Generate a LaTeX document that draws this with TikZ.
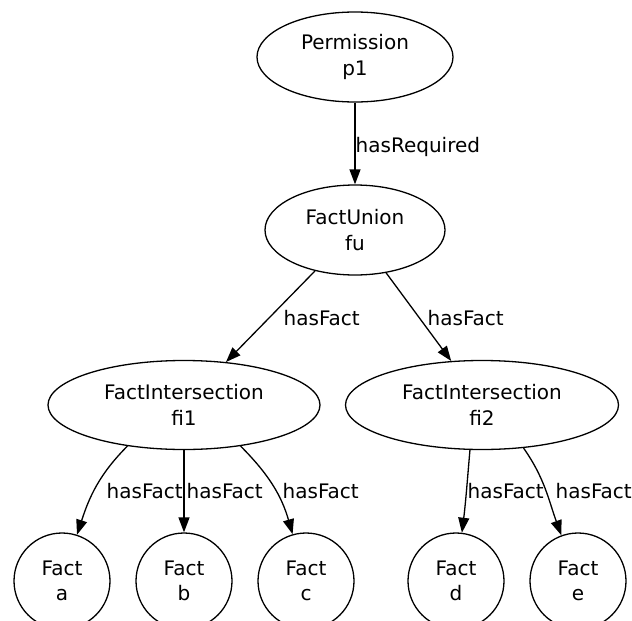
\documentclass[tikz,border=0pt]{standalone}
\usepackage{fontspec}
\setmainfont{DejaVu Sans}
\usetikzlibrary{shapes.geometric,arrows.meta}
\tikzset{every picture/.style={x=0.5pt,y=0.5pt,line width=0.65pt}}
\tikzset{ent/.style={ellipse,draw,inner sep=0pt,align=center,font=\fontsize{10}{13}\selectfont}}
\tikzset{fact/.style={circle,draw,inner sep=0pt,minimum size=48pt,align=center,font=\fontsize{10}{12.5}\selectfont}}
\tikzset{edge/.style={-{Triangle[length=7.5pt,width=5.5pt]}}}
\tikzset{lbl/.style={anchor=base west,inner sep=0pt,font=\fontsize{10}{12}\selectfont}}
\begin{document}
\begin{tikzpicture}
\useasboundingbox (0,0) rectangle (632,-621);

\node [ent,minimum width=98pt,minimum height=45pt] (p1) at (355,-57) {Permission\\p1};
\node [ent,minimum width=90pt,minimum height=45pt] (fu) at (355,-230) {FactUnion\\fu};
\node [ent,minimum width=136pt,minimum height=44.5pt] (fi1) at (184,-405) {FactIntersection\\fi1};
\node [ent,minimum width=136.5pt,minimum height=44.5pt] (fi2) at (482,-405) {FactIntersection\\fi2};

\node [fact] (a) at (62,-581) {Fact\\a};
\node [fact] (b) at (184,-581) {Fact\\b};
\node [fact] (c) at (306,-581) {Fact\\c};
\node [fact] (d) at (456,-581) {Fact\\d};
\node [fact] (e) at (578,-581) {Fact\\e};

\draw [edge] (p1) -- (fu);
\draw [edge] (fu) -- (fi1);
\draw [edge] (fu.-54) -- (fi2.125);

\draw [edge] (fi1.216) to [out=225,in=72] (a);
\draw [edge] (fi1) -- (b);
\draw [edge] (fi1.324) to [out=-45,in=106] (c);

\draw [edge] (fi2.255) to [out=265,in=83] (d);
\draw [edge] (fi2.314) to [out=-55,in=110] (e);

\node [lbl] (lr) at (355,-152) {hasRequired};
\node [lbl] (lf1) at (283,-325) {hasFact};
\node [lbl] (lf2) at (427,-325) {hasFact};
\node [lbl] (la) at (106,-498) {hasFact};
\node [lbl] (lb) at (186,-498) {hasFact};
\node [lbl] (lc) at (282,-498) {hasFact};
\node [lbl] (ld) at (467,-498) {hasFact};
\node [lbl] (le) at (555,-498) {hasFact};
\end{tikzpicture}
\end{document}
